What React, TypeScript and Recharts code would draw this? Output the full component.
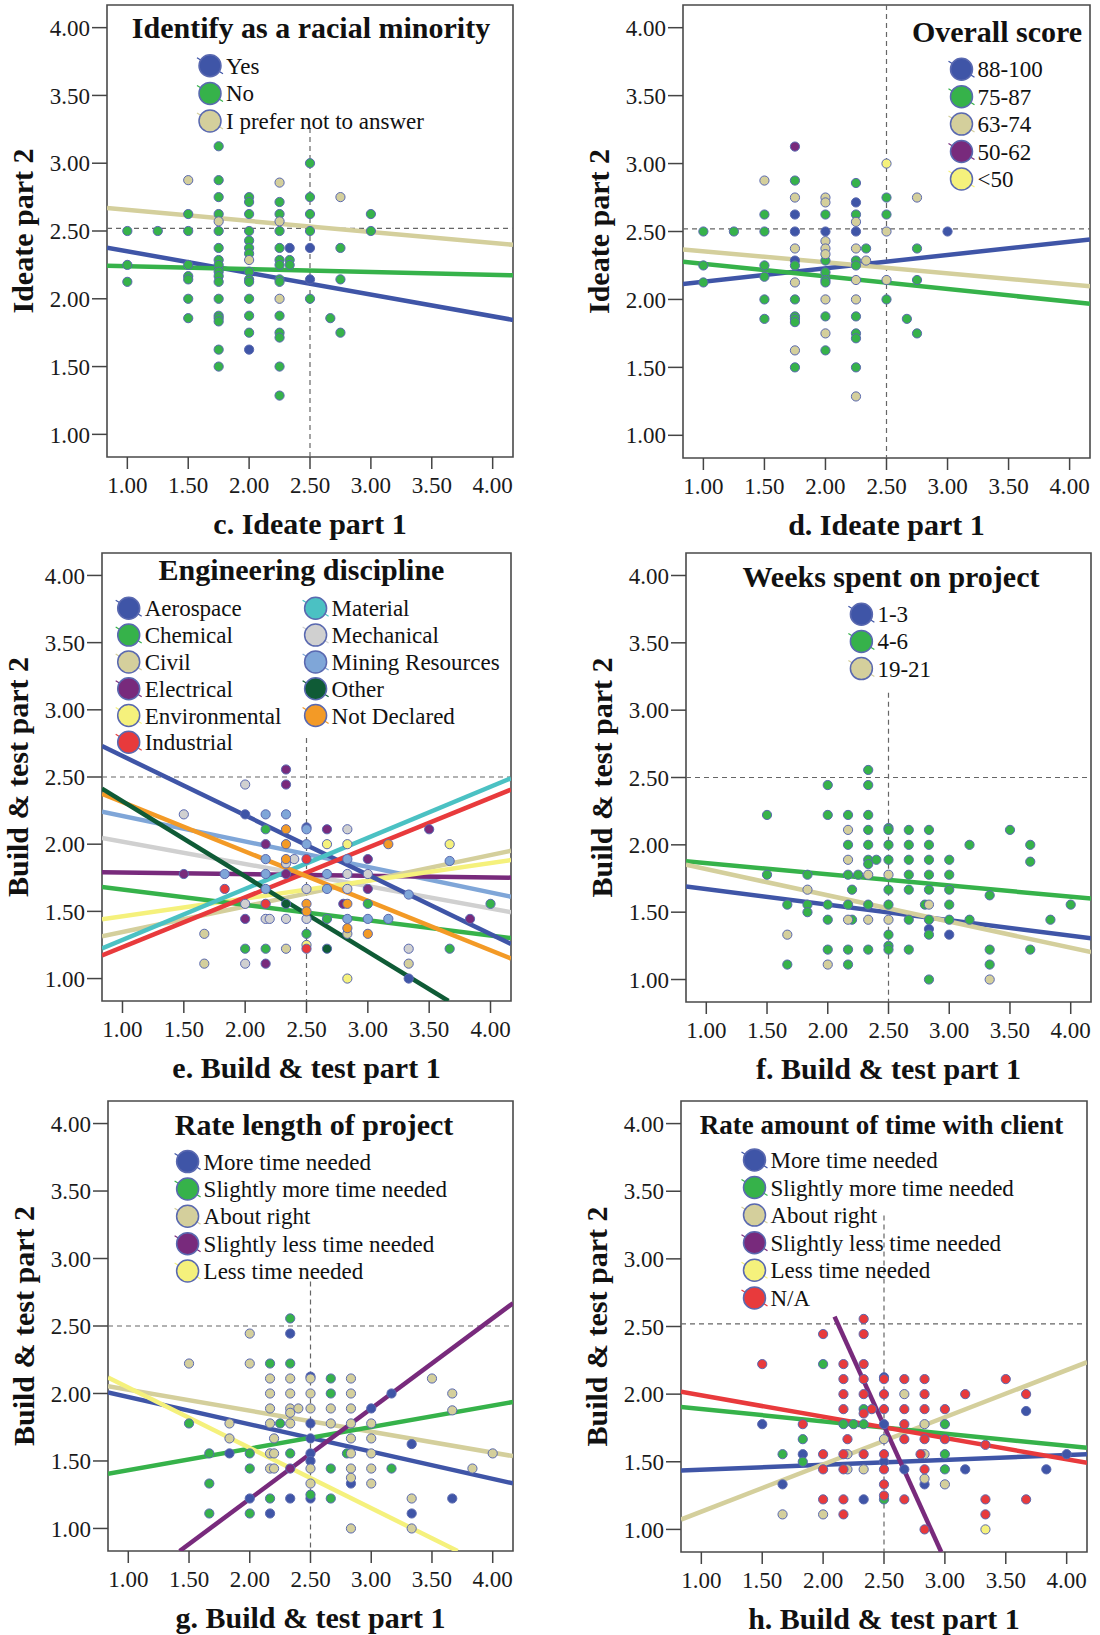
import React from 'react'
import { ComposedChart, Scatter, Line, XAxis, YAxis, ReferenceLine, ReferenceArea } from 'recharts'

const SERIF = '"Liberation Serif", "Times New Roman", "DejaVu Serif", serif'

const BLUE = '#3f55a7'
const GREEN = '#36b24a'
const TAN = '#d4cf9c'
const PURPLE = '#782a7c'
const YELLOW = '#f5f17c'
const RED = '#e83a3c'
const TEAL = '#4bc1c3'
const GREY = '#d0d0d0'
const SKY = '#7fa6d8'
const DKGREEN = '#0f5b36'
const ORANGE = '#f39a26'
const EDGE = '#5a69b0'

const axisTicks = [1, 1.5, 2, 2.5, 3, 3.5, 4]
const LO = 0.833
const HI = 4.167

type Pt = [number, number, number] // x, y, group
type Fit = [number, number, number, number, number] // group, x1, y1, x2, y2

// ---------- c. Ideate, racial minority ----------
const cGroups = ['Yes', 'No', 'I prefer not to answer']
const cColors = [BLUE, GREEN, TAN]
const cPoints: Pt[] = [
  [1, 2.5, 1], [1, 2.25, 1], [1, 2.125, 1], [1.25, 2.5, 1],
  [1.5, 2.875, 2], [1.5, 2.625, 1], [1.5, 2.5, 1], [1.5, 2.25, 1], [1.5, 2.167, 1], [1.5, 2.143, 1], [1.5, 2, 1], [1.5, 1.857, 1],
  [1.75, 2.571, 2], [1.75, 3.125, 1], [1.75, 2.875, 1], [1.75, 2.75, 1], [1.75, 2.625, 1], [1.75, 2.5, 1], [1.75, 2.375, 1],
  [1.75, 2.286, 1], [1.75, 2.25, 1], [1.75, 2.2, 1], [1.75, 2.167, 1], [1.75, 2.125, 1], [1.75, 2, 1], [1.75, 1.875, 1],
  [1.75, 1.857, 1], [1.75, 1.833, 1], [1.75, 1.625, 1], [1.75, 1.5, 1],
  [2, 2.75, 1], [2, 2.714, 1], [2, 2.625, 1], [2, 2.5, 1], [2, 2.429, 1], [2, 2.375, 1], [2, 2.333, 1], [2, 2.286, 2],
  [2, 2.2, 1], [2, 2.143, 1], [2, 2.125, 1], [2, 2, 1], [2, 1.875, 1], [2, 1.75, 1], [2, 1.625, 0],
  [2.25, 2.857, 2], [2.25, 2.714, 1], [2.25, 2.625, 1], [2.25, 2.571, 2], [2.25, 2.5, 1], [2.25, 2.375, 1], [2.25, 2.286, 1],
  [2.25, 2.25, 1], [2.25, 2.143, 1], [2.25, 2.125, 1], [2.25, 2, 2], [2.25, 1.875, 1], [2.25, 1.75, 1], [2.25, 1.714, 1],
  [2.25, 1.5, 1], [2.25, 1.286, 1],
  [2.333, 2.375, 0], [2.333, 2.286, 1], [2.333, 2.25, 1],
  [2.5, 3, 1], [2.5, 2.75, 1], [2.5, 2.625, 1], [2.5, 2.5, 1], [2.5, 2.375, 0], [2.5, 2.143, 0], [2.5, 2, 1],
  [2.667, 1.857, 1],
  [2.75, 2.75, 2], [2.75, 2.375, 1], [2.75, 2.143, 1], [2.75, 1.75, 1],
  [3, 2.625, 1], [3, 2.5, 1],
]
const cFits: Fit[] = [
  [2, LO, 2.669, HI, 2.398],
  [0, LO, 2.377, HI, 1.844],
  [1, LO, 2.243, HI, 2.173],
]

// ---------- d. Ideate, overall score ----------
const dGroups = ['88-100', '75-87', '63-74', '50-62', '<50']
const dColors = [BLUE, GREEN, TAN, PURPLE, YELLOW]
const dPoints: Pt[] = [
  [1, 2.5, 1], [1, 2.25, 1], [1, 2.125, 1], [1.25, 2.5, 1],
  [1.5, 2.875, 2], [1.5, 2.625, 1], [1.5, 2.5, 1], [1.5, 2.25, 1], [1.5, 2.167, 1], [1.5, 2, 1], [1.5, 1.857, 1],
  [1.75, 3.125, 3], [1.75, 2.875, 1], [1.75, 2.75, 2], [1.75, 2.625, 0], [1.75, 2.5, 0], [1.75, 2.375, 2], [1.75, 2.286, 0],
  [1.75, 2.25, 1], [1.75, 2.125, 2], [1.75, 2, 1], [1.75, 1.875, 1], [1.75, 1.857, 1], [1.75, 1.833, 1], [1.75, 1.625, 2], [1.75, 1.5, 1],
  [2, 2.75, 2], [2, 2.714, 2], [2, 2.625, 1], [2, 2.5, 0], [2, 2.429, 2], [2, 2.375, 2], [2, 2.333, 2], [2, 2.286, 1],
  [2, 2.2, 1], [2, 2.143, 1], [2, 2.125, 1], [2, 2, 2], [2, 1.875, 1], [2, 1.75, 2], [2, 1.625, 1],
  [2.25, 2.857, 1], [2.25, 2.714, 0], [2.25, 2.625, 1], [2.25, 2.571, 2], [2.25, 2.5, 0], [2.25, 2.375, 2], [2.25, 2.286, 1],
  [2.25, 2.25, 1], [2.25, 2.143, 2], [2.25, 2, 2], [2.25, 1.875, 1], [2.25, 1.75, 1], [2.25, 1.714, 1], [2.25, 1.5, 1], [2.25, 1.286, 2],
  [2.333, 2.375, 1], [2.333, 2.286, 2],
  [2.5, 3, 4], [2.5, 2.75, 1], [2.5, 2.625, 1], [2.5, 2.5, 2], [2.5, 2.143, 2], [2.5, 2, 1],
  [2.667, 1.857, 1],
  [2.75, 2.75, 2], [2.75, 2.375, 1], [2.75, 2.143, 1], [2.75, 1.75, 1],
  [3, 2.5, 0],
]
const dFits: Fit[] = [
  [0, LO, 2.114, HI, 2.442],
  [2, LO, 2.368, HI, 2.097],
  [1, LO, 2.278, HI, 1.968],
]

// ---------- e. Build & test, engineering discipline ----------
const eGroups = [
  'Aerospace', 'Chemical', 'Civil', 'Electrical', 'Environmental', 'Industrial',
  'Material', 'Mechanical', 'Mining Resources', 'Other', 'Not Declared',
]
const eColors = [BLUE, GREEN, TAN, PURPLE, YELLOW, RED, TEAL, GREY, SKY, DKGREEN, ORANGE]
const ePoints: Pt[] = [
  [1.5, 2.222, 7], [1.5, 1.778, 3], [1.667, 1.333, 2], [1.667, 1.111, 2], [1.833, 1.778, 8], [1.833, 1.667, 5],
  [2, 2.444, 7], [2, 2.222, 0], [2, 1.556, 7], [2, 1.444, 3], [2, 1.222, 1], [2, 1.111, 7],
  [2.167, 2.222, 8], [2.167, 2.111, 1], [2.167, 2, 3], [2.167, 1.889, 8], [2.167, 1.778, 8], [2.167, 1.667, 8],
  [2.167, 1.556, 5], [2.167, 1.444, 7], [2.2, 1.444, 7], [2.167, 1.222, 1], [2.167, 1.111, 3],
  [2.333, 2.556, 3], [2.333, 2.444, 3], [2.333, 2.222, 8], [2.333, 2.111, 10], [2.333, 2, 10], [2.333, 1.889, 10],
  [2.333, 1.857, 7], [2.4, 1.889, 7], [2.333, 1.778, 3], [2.333, 1.556, 9], [2.333, 1.444, 7], [2.333, 1.222, 2],
  [2.5, 2.125, 0], [2.5, 2.111, 8], [2.5, 2, 8], [2.5, 1.889, 5], [2.5, 1.667, 7], [2.5, 1.556, 10], [2.5, 1.5, 10],
  [2.5, 1.444, 7], [2.5, 1.333, 1], [2.5, 1.25, 4], [2.5, 1.222, 5],
  [2.667, 2.111, 3], [2.667, 2, 4], [2.667, 1.778, 8], [2.667, 1.667, 8], [2.667, 1.444, 1], [2.667, 1.222, 9],
  [2.8, 1.556, 3],
  [2.833, 2.111, 7], [2.833, 2, 4], [2.833, 1.889, 8], [2.833, 1.778, 7], [2.833, 1.667, 7], [2.833, 1.556, 10],
  [2.833, 1.444, 8], [2.833, 1.375, 10], [2.833, 1.333, 2], [2.833, 1, 4],
  [3, 1.889, 3], [3, 1.778, 7], [3, 1.667, 3], [3, 1.556, 1], [3, 1.444, 8], [3, 1.333, 10],
  [3.167, 2, 10], [3.167, 1.444, 8],
  [3.333, 1.625, 8], [3.333, 1.222, 7], [3.333, 1.111, 2], [3.333, 1, 0],
  [3.5, 2.111, 3], [3.667, 2, 4], [3.667, 1.875, 8], [3.667, 1.222, 1], [3.833, 1.444, 3], [4, 1.556, 1],
]
const eFits: Fit[] = [
  [8, LO, 2.242, HI, 1.609],
  [7, LO, 2.046, HI, 1.494],
  [3, LO, 1.792, HI, 1.751],
  [2, LO, 1.314, HI, 1.951],
  [4, LO, 1.442, HI, 1.882],
  [1, LO, 1.681, HI, 1.301],
  [0, LO, 2.73, HI, 1.257],
  [6, LO, 1.224, HI, 2.491],
  [5, LO, 1.172, HI, 2.406],
  [10, LO, 2.375, HI, 1.149],
  [9, LO, 2.414, 3.657, LO],
]

// ---------- f. Build & test, weeks on project ----------
const fGroups = ['1-3', '4-6', '19-21']
const fColors = [BLUE, GREEN, TAN]
const fPoints: Pt[] = [
  [2.333, 2.556, 1], [2, 2.444, 1], [2.333, 2.444, 1],
  [1.5, 2.222, 1], [2, 2.222, 1], [2.167, 2.222, 1], [2.333, 2.222, 1],
  [2.167, 2.111, 2], [2.333, 2.111, 1], [2.5, 2.125, 1], [2.5, 2.111, 1], [2.667, 2.111, 1], [2.833, 2.111, 1], [3.5, 2.111, 1],
  [2.167, 2, 1], [2.333, 2, 1], [2.5, 2, 1], [2.667, 2, 1], [2.833, 2, 1], [3.167, 2, 1], [3.667, 2, 1],
  [2.167, 1.889, 2], [2.333, 1.889, 1], [2.4, 1.889, 1], [2.333, 1.857, 1], [2.5, 1.889, 1], [2.667, 1.889, 1],
  [2.833, 1.889, 1], [3, 1.889, 1], [3.667, 1.875, 1],
  [1.5, 1.778, 1], [1.833, 1.778, 1], [2.167, 1.778, 1], [2.25, 1.778, 1], [2.333, 1.778, 2], [2.5, 1.778, 2],
  [2.667, 1.778, 1], [2.833, 1.778, 1], [3, 1.778, 1],
  [1.833, 1.667, 2], [2.2, 1.667, 1], [2.5, 1.667, 1], [2.667, 1.667, 1], [2.833, 1.667, 1], [3, 1.667, 1], [3.333, 1.625, 1],
  [1.667, 1.556, 1], [1.833, 1.556, 1], [1.833, 1.5, 1], [2, 1.556, 1], [2.167, 1.556, 1], [2.333, 1.556, 1],
  [2.5, 1.556, 1], [2.8, 1.556, 1], [2.833, 1.556, 2], [3, 1.556, 1], [4, 1.556, 1],
  [2, 1.444, 1], [2.167, 1.444, 2], [2.2, 1.444, 1], [2.333, 1.444, 2], [2.5, 1.444, 2], [2.667, 1.444, 1],
  [2.833, 1.444, 1], [3, 1.444, 1], [3.167, 1.444, 1], [3.833, 1.444, 1],
  [2.833, 1.375, 0], [2.833, 1.333, 1], [3, 1.333, 0], [1.667, 1.333, 2], [2.5, 1.333, 1], [2.5, 1.25, 1],
  [2, 1.222, 1], [2.167, 1.222, 1], [2.333, 1.222, 1], [2.5, 1.222, 1], [2.667, 1.222, 1], [3.333, 1.222, 1], [3.667, 1.222, 1],
  [1.667, 1.111, 1], [2, 1.111, 2], [2.167, 1.111, 1], [3.333, 1.111, 1],
  [2.833, 1, 1], [3.333, 1, 2],
]
const fFits: Fit[] = [
  [1, LO, 1.878, HI, 1.601],
  [0, LO, 1.691, HI, 1.306],
  [2, LO, 1.852, HI, 1.203],
]

// ---------- g. Build & test, rate length of project ----------
const gGroups = ['More time needed', 'Slightly more time needed', 'About right', 'Slightly less time needed', 'Less time needed']
const gColors = [BLUE, GREEN, TAN, PURPLE, YELLOW]
const gPoints: Pt[] = [
  [2.333, 2.556, 1], [2, 2.444, 2], [2.333, 2.444, 0],
  [1.5, 2.222, 2], [2, 2.222, 2], [2.167, 2.222, 1], [2.333, 2.222, 1],
  [2.167, 2.111, 2], [2.333, 2.111, 2], [2.5, 2.125, 0], [2.5, 2.111, 2], [2.667, 2.111, 1], [2.833, 2.111, 2], [3.5, 2.111, 2],
  [2.167, 2, 2], [2.333, 2, 2], [2.5, 2, 2], [2.667, 2, 1], [2.833, 2, 2], [3.167, 2, 0], [3.667, 2, 2],
  [2.167, 1.889, 2], [2.333, 1.889, 2], [2.4, 1.889, 2], [2.333, 1.857, 2], [2.5, 1.889, 2], [2.667, 1.889, 2],
  [2.833, 1.889, 2], [3, 1.889, 0], [3.667, 1.875, 2],
  [1.5, 1.778, 1], [1.833, 1.778, 2], [2.167, 1.778, 2], [2.25, 1.778, 1], [2.333, 1.778, 2], [2.5, 1.778, 0],
  [2.667, 1.778, 2], [2.833, 1.778, 2], [3, 1.778, 2],
  [1.833, 1.667, 2], [2.2, 1.667, 2], [2.5, 1.667, 0], [2.833, 1.667, 2], [3, 1.667, 2], [3.333, 1.625, 0],
  [1.667, 1.556, 1], [1.833, 1.556, 0], [2, 1.556, 1], [2.167, 1.556, 2], [2.2, 1.556, 2], [2.333, 1.556, 1],
  [2.5, 1.556, 0], [2.5, 1.5, 0], [2.8, 1.556, 1], [2.833, 1.556, 2], [3, 1.556, 2], [4, 1.556, 2],
  [2, 1.444, 1], [2.167, 1.444, 2], [2.2, 1.444, 2], [2.333, 1.444, 3], [2.5, 1.444, 2], [2.667, 1.444, 1],
  [2.833, 1.444, 2], [3, 1.444, 2], [3.167, 1.444, 1], [3.833, 1.444, 2],
  [2.833, 1.375, 2], [2.833, 1.333, 0], [3, 1.333, 2], [1.667, 1.333, 1], [2.5, 1.333, 2], [2.5, 1.25, 1],
  [2, 1.222, 0], [2.167, 1.222, 1], [2.333, 1.222, 0], [2.5, 1.222, 0], [2.667, 1.222, 1], [3.333, 1.222, 2], [3.667, 1.222, 0],
  [1.667, 1.111, 1], [2, 1.111, 1], [2.167, 1.111, 0], [3.333, 1.111, 0],
  [2.833, 1, 2], [3.333, 1, 2],
]
const gFits: Fit[] = [
  [2, LO, 2.053, HI, 1.536],
  [0, LO, 2.007, HI, 1.334],
  [1, LO, 1.406, HI, 1.937],
  [4, LO, 2.118, 3.711, LO],
  [3, 1.423, LO, HI, 2.669],
]

// ---------- h. Build & test, time with client ----------
const hGroups = [...gGroups, 'N/A']
const hColors = [BLUE, GREEN, TAN, PURPLE, YELLOW, RED]
const hPoints: Pt[] = [
  [2.333, 2.556, 5], [2, 2.444, 5], [2.333, 2.444, 5],
  [1.5, 2.222, 5], [2, 2.222, 1], [2.167, 2.222, 5], [2.333, 2.222, 5],
  [2.167, 2.111, 5], [2.333, 2.111, 5], [2.5, 2.125, 0], [2.5, 2.111, 5], [2.667, 2.111, 5], [2.833, 2.111, 5], [3.5, 2.111, 5],
  [2.167, 2, 5], [2.333, 2, 5], [2.5, 2, 5], [2.667, 2, 2], [2.833, 2, 5], [3.167, 2, 5], [3.667, 2, 5],
  [2.167, 1.889, 5], [2.333, 1.889, 1], [2.4, 1.889, 5], [2.333, 1.857, 5], [2.5, 1.889, 5], [2.667, 1.889, 5],
  [2.833, 1.889, 5], [3, 1.889, 5], [3.667, 1.875, 0],
  [1.5, 1.778, 0], [1.833, 1.778, 5], [2.167, 1.778, 1], [2.25, 1.778, 1], [2.333, 1.778, 1], [2.5, 1.778, 0],
  [2.667, 1.778, 5], [2.833, 1.778, 2], [3, 1.778, 1],
  [1.833, 1.667, 1], [2.2, 1.667, 5], [2.5, 1.667, 2], [2.667, 1.667, 5], [2.833, 1.667, 5], [3, 1.667, 5], [3.333, 1.625, 5],
  [1.667, 1.556, 1], [1.833, 1.556, 0], [1.833, 1.5, 1], [2, 1.556, 5], [2.167, 1.556, 5], [2.2, 1.556, 2],
  [2.333, 1.556, 5], [2.5, 1.556, 5], [2.5, 1.5, 0], [2.8, 1.556, 5], [2.833, 1.556, 2], [3, 1.556, 1], [4, 1.556, 0],
  [2, 1.444, 5], [2.167, 1.444, 5], [2.2, 1.444, 2], [2.333, 1.444, 2], [2.5, 1.444, 5], [2.667, 1.444, 0],
  [2.833, 1.444, 5], [3, 1.444, 1], [3.167, 1.444, 0], [3.833, 1.444, 0],
  [2.833, 1.375, 2], [2.833, 1.333, 0], [3, 1.333, 2], [1.667, 1.333, 0], [2.5, 1.333, 5], [2.5, 1.25, 5],
  [2, 1.222, 5], [2.167, 1.222, 5], [2.333, 1.222, 0], [2.5, 1.222, 1], [2.667, 1.222, 5], [3.333, 1.222, 5], [3.667, 1.222, 5],
  [1.667, 1.111, 2], [2, 1.111, 2], [2.167, 1.111, 5], [3.333, 1.111, 5],
  [2.833, 1, 5], [3.333, 1, 4],
]
const hFits: Fit[] = [
  [0, LO, 1.435, HI, 1.556],
  [2, LO, 1.073, HI, 2.236],
  [1, LO, 1.905, HI, 1.603],
  [5, LO, 2.017, HI, 1.492],
  [3, 2.094, 2.573, 2.97, LO],
]

// ---------- layout ----------
interface KeySpec {
  title: string
  x: number
  y: number
  size: number
  cx: number[]
  perCol: number
  y0: number
  step: number
}

interface PanelSpec {
  id: string
  box: [number, number, number, number]
  xTitle: string
  yTitle: string
  groups: string[]
  colors: string[]
  points: Pt[]
  fits: Fit[]
  hLine: number
  vTop: number
  key: KeySpec
}

const panels: PanelSpec[] = [
  {
    id: 'c', box: [107, 5, 513, 457], xTitle: 'c. Ideate part 1', yTitle: 'Ideate part 2',
    groups: cGroups, colors: cColors, points: cPoints, fits: cFits, hLine: 2.52, vTop: 3.26,
    key: { title: 'Identify as a racial minority', x: 311, y: 38, size: 30, cx: [210], perCol: 9, y0: 65.8, step: 27.6 },
  },
  {
    id: 'd', box: [683, 5, 1090, 458], xTitle: 'd. Ideate part 1', yTitle: 'Ideate part 2',
    groups: dGroups, colors: dColors, points: dPoints, fits: dFits, hLine: 2.52, vTop: HI,
    key: { title: 'Overall score', x: 997, y: 42, size: 30, cx: [961.5], perCol: 9, y0: 69.2, step: 27.45 },
  },
  {
    id: 'e', box: [102, 553, 511, 1001], xTitle: 'e. Build & test part 1', yTitle: 'Build & test part 2',
    groups: eGroups, colors: eColors, points: ePoints, fits: eFits, hLine: 2.5, vTop: 2.79,
    key: { title: 'Engineering discipline', x: 301.5, y: 580, size: 30, cx: [128.7, 315.6], perCol: 6, y0: 608.3, step: 26.8 },
  },
  {
    id: 'f', box: [686, 553, 1091, 1002], xTitle: 'f. Build & test part 1', yTitle: 'Build & test part 2',
    groups: fGroups, colors: fColors, points: fPoints, fits: fFits, hLine: 2.5, vTop: 3.13,
    key: { title: 'Weeks spent on project', x: 891, y: 587, size: 30, cx: [861.4], perCol: 9, y0: 614.2, step: 27.2 },
  },
  {
    id: 'g', box: [108, 1101, 513, 1551], xTitle: 'g. Build & test part 1', yTitle: 'Build & test part 2',
    groups: gGroups, colors: gColors, points: gPoints, fits: gFits, hLine: 2.5, vTop: 2.83,
    key: { title: 'Rate length of project', x: 314, y: 1134.5, size: 30, cx: [187.6], perCol: 9, y0: 1161.6, step: 27.35 },
  },
  {
    id: 'h', box: [681, 1101, 1087, 1552], xTitle: 'h. Build & test part 1', yTitle: 'Build & test part 2',
    groups: hGroups, colors: hColors, points: hPoints, fits: hFits, hLine: 2.52, vTop: 3.32,
    key: { title: 'Rate amount of time with client', x: 881.5, y: 1134.4, size: 27, cx: [754.5], perCol: 9, y0: 1159.9, step: 27.6 },
  },
]

const YW = 110
const MT = 5
const XH = 84
const MR = 8

const tickStyle = { fontSize: 23, fill: '#1a1a1a', fontFamily: SERIF }

function dotShape(color: string) {
  return (props: any) => (
    <circle cx={props.cx} cy={props.cy} r={4.6} fill={color} stroke={EDGE} strokeWidth={1} />
  )
}

function Panel({ p }: { p: PanelSpec }) {
  const [x0, y0, x1, y1] = p.box
  const w = YW + (x1 - x0) + MR
  const h = MT + (y1 - y0) + XH
  return (
    <div style={{ position: 'absolute', left: x0 - YW, top: y0 - MT, width: w, height: h }}>
      <ComposedChart width={w} height={h} margin={{ top: MT, right: MR, bottom: 0, left: 0 }}>
        <XAxis
          type="number"
          dataKey="x"
          domain={[LO, HI]}
          ticks={axisTicks}
          allowDataOverflow
          height={XH}
          tickSize={12}
          tickMargin={8}
          tickFormatter={(v: number) => v.toFixed(2)}
          tick={tickStyle}
          axisLine={false}
          tickLine={{ stroke: '#444', strokeWidth: 1.5 }}
        />
        <YAxis
          type="number"
          dataKey="y"
          domain={[LO, HI]}
          ticks={axisTicks}
          allowDataOverflow
          width={YW}
          tickSize={15}
          tickMargin={2}
          tickFormatter={(v: number) => v.toFixed(2)}
          tick={tickStyle}
          axisLine={false}
          tickLine={{ stroke: '#444', strokeWidth: 1.5 }}
        />
        <ReferenceLine y={p.hLine} stroke="#666" strokeWidth={1.2} strokeDasharray="5 4" />
        <ReferenceLine
          segment={[{ x: 2.5, y: p.vTop }, { x: 2.5, y: LO }]}
          stroke="#666"
          strokeWidth={1.2}
          strokeDasharray="5 4"
        />
        {p.groups.map((g, gi) => {
          const data = p.points.filter((pt) => pt[2] === gi).map(([x, y]) => ({ x, y }))
          if (!data.length) return null
          return (
            <Scatter
              key={g}
              name={g}
              data={data}
              fill={p.colors[gi]}
              shape={dotShape(p.colors[gi])}
              isAnimationActive={false}
            />
          )
        })}
        {p.fits.map(([gi, xa, ya, xb, yb], i) => (
          <Line
            key={'fit' + i}
            data={[{ x: xa, y: ya }, { x: xb, y: yb }]}
            dataKey="y"
            type="linear"
            stroke={p.colors[gi]}
            strokeWidth={4.5}
            dot={false}
            activeDot={false}
            legendType="none"
            isAnimationActive={false}
          />
        ))}
        <ReferenceArea x1={LO} x2={HI} y1={LO} y2={HI} fill="none" stroke="#4a4a4a" strokeWidth={1.6} ifOverflow="visible" />
      </ComposedChart>
    </div>
  )
}

function Titles({ p }: { p: PanelSpec }) {
  const [x0, y0, x1, y1] = p.box
  const k = p.key
  return (
    <g fontFamily={SERIF} fill="#111">
      <text x={(x0 + x1) / 2} y={y1 + 77} textAnchor="middle" fontSize={30} fontWeight="bold">
        {p.xTitle}
      </text>
      <text
        transform={`translate(${x0 - 74},${(y0 + y1) / 2}) rotate(-90)`}
        textAnchor="middle"
        fontSize={30}
        fontWeight="bold"
      >
        {p.yTitle}
      </text>
      <text x={k.x} y={k.y} textAnchor="middle" fontSize={k.size} fontWeight="bold">
        {k.title}
      </text>
      {p.groups.map((g, i) => {
        const cx = k.cx[Math.floor(i / k.perCol)]
        const cy = k.y0 + (i % k.perCol) * k.step
        return (
          <g key={g}>
            <line x1={cx - 13} y1={cy - 8} x2={cx + 13} y2={cy + 8} stroke={p.colors[i]} strokeWidth={1.2} />
            <circle cx={cx} cy={cy} r={11} fill={p.colors[i]} stroke={EDGE} strokeWidth={1.5} />
            <text x={cx + 16} y={cy + 8} fontSize={23}>
              {g}
            </text>
          </g>
        )
      })}
    </g>
  )
}

export default function App() {
  return (
    <div
      style={{
        position: 'absolute',
        left: 0,
        top: 0,
        width: 1100,
        height: 1635,
        background: '#fff',
        overflow: 'hidden',
        fontFamily: SERIF,
      }}
    >
      {panels.map((p) => (
        <Panel key={p.id} p={p} />
      ))}
      <svg width={1100} height={1635} style={{ position: 'absolute', left: 0, top: 0, pointerEvents: 'none' }}>
        {panels.map((p) => (
          <Titles key={p.id} p={p} />
        ))}
      </svg>
    </div>
  )
}
